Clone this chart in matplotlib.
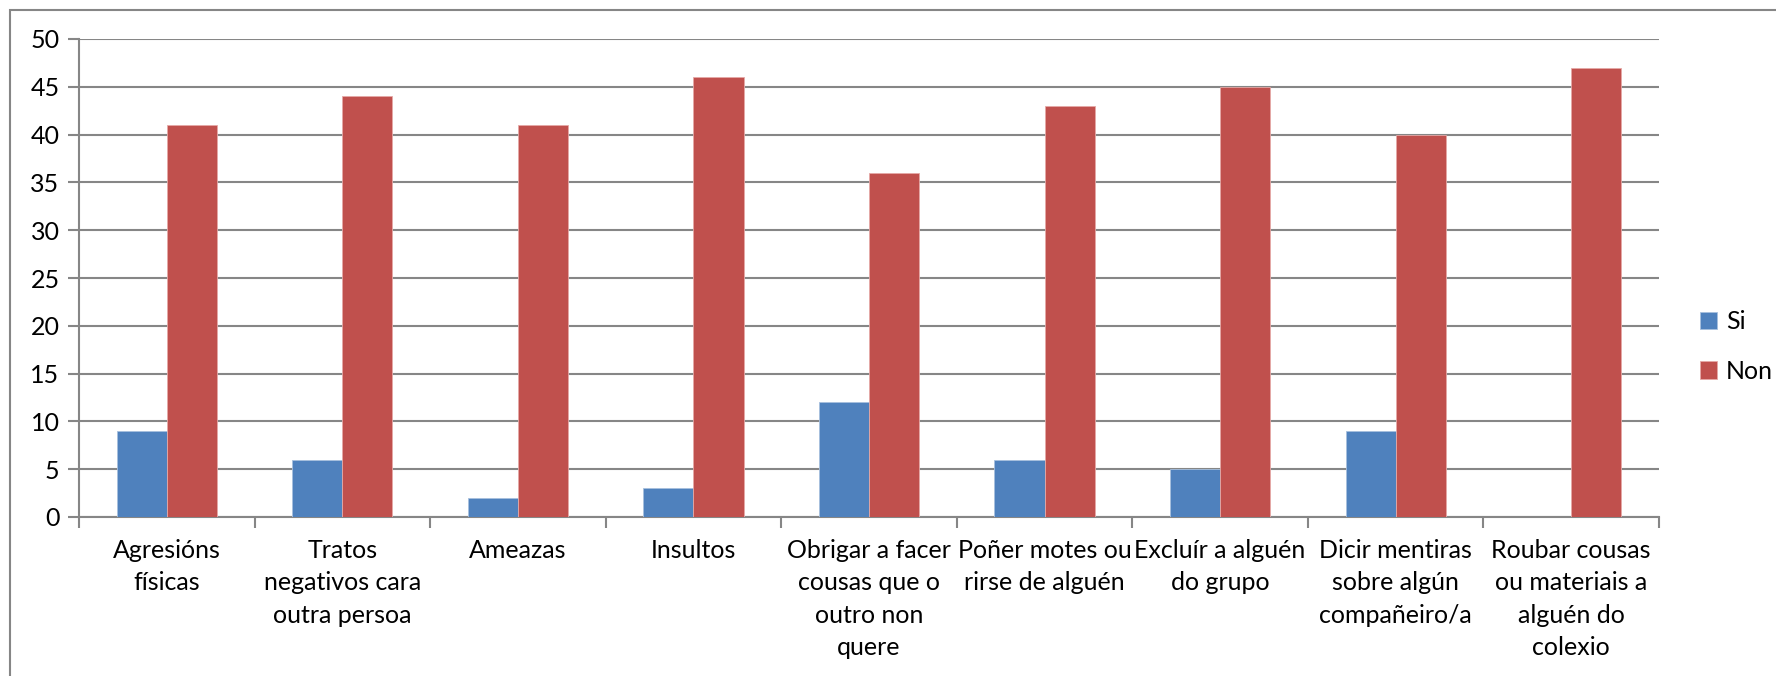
import numpy as np
import matplotlib
matplotlib.use("Agg")
import matplotlib.pyplot as plt
from matplotlib.patches import Rectangle

# datos
categorias = ["Agresións\nfísicas", "Tratos\nnegativos cara\noutra persoa", "Ameazas",
              "Insultos", "Obrigar a facer\ncousas que o\noutro non\nquere",
              "Poñer motes ou\nrirse de alguén", "Excluír a alguén\ndo grupo",
              "Dicir mentiras\nsobre algún\ncompañeiro/a",
              "Roubar cousas\nou materiais a\nalguén do\ncolexio"]
si = [9, 6, 2, 3, 12, 6, 5, 9, 0]
non = [41, 44, 41, 46, 36, 43, 45, 40, 47]
yticks = [0, 5, 10, 15, 20, 25, 30, 35, 40, 45, 50]

plt.rcParams['font.family'] = ['Lato', 'DejaVu Sans']
cor_grella = '#868686'

fig = plt.figure(figsize=(17.76, 6.76), dpi=100)
ax = fig.add_axes([79 / 1776, 1 - 517 / 676, 1580 / 1776, 478 / 676])

x = np.arange(len(categorias))
w = 1 / 3.5
ax.bar(x - w / 2, si, w, color='#4F81BD', edgecolor='#A7C0DE', linewidth=0.6, label='Si', zorder=3)
ax.bar(x + w / 2, non, w, color='#C0504D', edgecolor='#E5A9A7', linewidth=0.6, label='Non', zorder=3)

ax.set_xlim(-0.5, len(categorias) - 0.5)
ax.set_ylim(0, 50)
ax.set_yticks(yticks)
ax.yaxis.grid(True, color=cor_grella, linewidth=1.5, zorder=0)
ax.tick_params(axis='y', length=8, width=1.5, color=cor_grella, labelsize=18, pad=6)

# marcas do eixo x entre categorías
ax.set_xticks(np.arange(-0.5, len(categorias)))
ax.set_xticklabels([''] * (len(categorias) + 1))
ax.tick_params(axis='x', length=8, width=1.5, color=cor_grella)
for i, t in enumerate(categorias):
    ax.text(i, -2.3, t, ha='center', va='top', fontsize=18, linespacing=1.5)

for s in ['top', 'right']:
    ax.spines[s].set_visible(False)
for s in ['left', 'bottom']:
    ax.spines[s].set_color(cor_grella)
    ax.spines[s].set_linewidth(1.5)

leg = fig.legend(loc='upper left', bbox_to_anchor=(1677 / 1776, 1 - 288 / 676), frameon=False,
                 fontsize=18, handlelength=0.7, handleheight=0.7, handletextpad=0.35,
                 labelspacing=1.05)

# bordo exterior
fig.patches.append(Rectangle((10 / 1776, -0.1), 1.2, 1 - 10 / 676 + 0.1, transform=fig.transFigure,
                             fill=False, edgecolor=cor_grella, linewidth=1.5))

fig.savefig('out.png', dpi=100)
